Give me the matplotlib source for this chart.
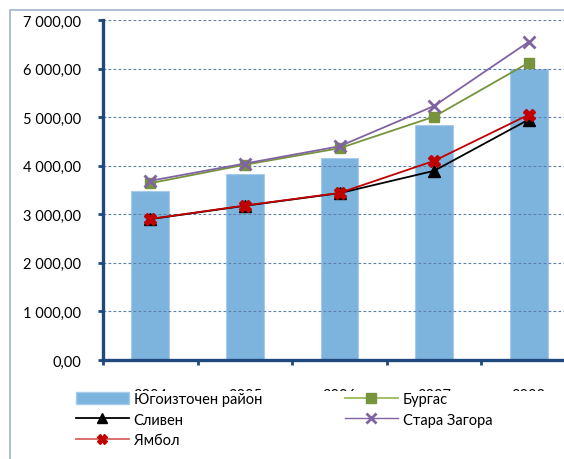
import matplotlib
matplotlib.use("Agg")
import matplotlib.pyplot as plt
from matplotlib.patches import Rectangle
from matplotlib.lines import Line2D
from matplotlib.ticker import FuncFormatter, FixedLocator

plt.rcParams['font.family'] = ['Lato', 'DejaVu Sans']

years = ['2004', '2005', '2006', '2007', '2008']
region = [3470, 3820, 4150, 4840, 6000]      # Югоизточен район
burgas = [3640, 4020, 4360, 5010, 6120]      # Бургас
sliven = [2900, 3175, 3435, 3895, 4950]      # Сливен
st_zagora = [3690, 4045, 4400, 5230, 6550]   # Стара Загора
yambol = [2905, 3180, 3440, 4100, 5050]      # Ямбол

W, H = 564, 460
fig = plt.figure(figsize=(W/100, H/100), dpi=100)

# outer chart frame
fig.add_artist(Rectangle((10/W, -0.1), 1.2, (H - 11)/H + 0.1, transform=fig.transFigure,
                         fill=False, edgecolor='#9FB3CC', linewidth=1.2, zorder=-1))

ax_left, ax_right, ax_top, ax_bot = 103, 576, 21, 361
ax = fig.add_axes([ax_left/W, (H-ax_bot)/H, (ax_right-ax_left)/W, (ax_bot-ax_top)/H])
ax.set_facecolor('none')

x = list(range(len(years)))
ax.bar(x, region, width=0.4, color='#7DB4DE', edgecolor='#A8CBEA', linewidth=0.8, zorder=1)

ax.set_ylim(0, 7000)
ax.set_xlim(-0.5, len(years) - 0.5)

for v in range(1000, 7001, 1000):
    ax.axhline(v, color='#5E7FA8', linestyle=(0, (2.5, 2)), linewidth=0.8, zorder=1.5)

ax.plot(x, burgas, color='#77933C', linewidth=1.3, marker='s', markersize=7,
        markerfacecolor='#77933C', markeredgecolor='#77933C', zorder=3)
ax.plot(x, st_zagora, color='#8064A2', linewidth=1.3, marker='x', markersize=8,
        markeredgewidth=2, markeredgecolor='#8064A2', zorder=3)
ax.plot(x, sliven, color='black', linewidth=1.3, marker='^', markersize=8,
        markerfacecolor='black', markeredgecolor='black', zorder=3)
ax.plot(x, yambol, color='#C00000', linewidth=1.3, marker='X', markersize=8,
        markerfacecolor='#C00000', markeredgecolor='#C00000', zorder=3)

for s in ['top', 'right']:
    ax.spines[s].set_visible(False)
for s in ['left', 'bottom']:
    ax.spines[s].set_color('#1F497D')
    ax.spines[s].set_linewidth(2.4)
    ax.spines[s].set_zorder(4)

def fmt(v, pos):
    s = f"{v:,.2f}".replace(',', ' ').replace('.', ',')
    return s
ax.yaxis.set_major_locator(FixedLocator(range(0, 7001, 1000)))
ax.yaxis.set_major_formatter(FuncFormatter(fmt))
ax.tick_params(axis='y', direction='out', length=3.5, width=2, color='#1F497D',
               pad=12.5, labelsize=10.5, labelcolor='black')

ax.xaxis.set_major_locator(FixedLocator([i - 0.5 for i in range(len(years) + 1)]))
ax.set_xticklabels([''] * (len(years) + 1))
ax.set_xticks(x, minor=True)
ax.set_xticklabels(years, minor=True)
ax.tick_params(axis='x', which='major', direction='out', length=3.5, width=2, color='#1F497D')
ax.tick_params(axis='x', which='minor', length=0, pad=20, labelsize=10.5, labelcolor='black')

# white legend area covering the top of the year labels (as in the original)
fig.add_artist(Rectangle((60/W, 2/H), (W - 60)/W, (H - 392 - 2)/H, transform=fig.transFigure,
                         facecolor='white', edgecolor='none', zorder=5))

h_region = Rectangle((0, 0), 1, 1, facecolor='#7DB4DE', edgecolor='#A8CBEA')
h_sliven = Line2D([], [], color='black', marker='^', markersize=7, linewidth=1.3)
h_yambol = Line2D([], [], color='#D9625F', marker='X', markersize=7,
                  markerfacecolor='#C00000', markeredgecolor='#C00000', linewidth=1.3)
h_burgas = Line2D([], [], color='#9BBB59', marker='s', markersize=6.5,
                  markerfacecolor='#77933C', markeredgecolor='#77933C', linewidth=1.3)
h_zagora = Line2D([], [], color='#8064A2', marker='x', markersize=6.5, markeredgewidth=2,
                  linewidth=1.0)

leg_kw = dict(loc='upper left', frameon=False, fontsize=10.5, handlelength=3.6,
              handletextpad=0.35, labelspacing=0.45, borderpad=0, borderaxespad=0,
              handleheight=0.9)
leg1 = fig.legend([h_region, h_sliven, h_yambol], ['Югоизточен район', 'Сливен', 'Ямбол'],
                  bbox_to_anchor=(76/W, (H - 393)/H), **leg_kw)
leg1.set_zorder(6)
leg2 = fig.legend([h_burgas, h_zagora], ['Бургас', 'Стара Загора'],
                  bbox_to_anchor=(345/W, (H - 393)/H), **leg_kw)
leg2.set_zorder(6)

fig.savefig('out.png', dpi=100)
